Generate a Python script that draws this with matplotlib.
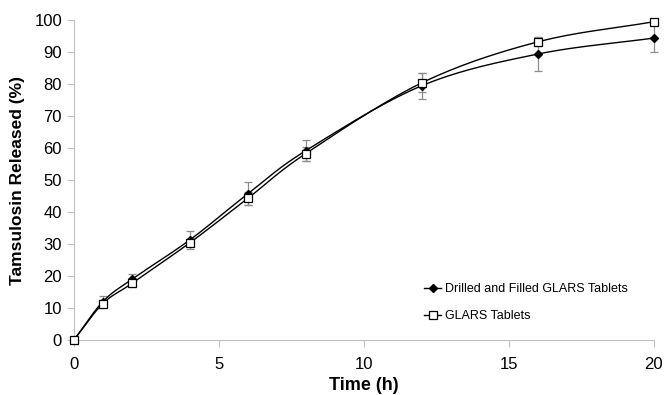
import numpy as np
import matplotlib.pyplot as plt

plt.rcParams['font.family'] = ['Liberation Sans', 'DejaVu Sans']

time_h = [0, 1, 2, 4, 6, 8, 12, 16, 20]
drilled = [0, 12.0, 19.0, 31.3, 45.7, 59.2, 79.5, 89.4, 94.4]
drilled_err = [0, 1.9, 1.8, 2.8, 3.6, 3.3, 4.1, 5.3, 4.2]
glars = [0, 11.4, 17.7, 30.4, 44.3, 58.3, 80.4, 93.2, 99.5]
glars_err = [0, 1.2, 1.2, 1.0, 2.1, 2.2, 3.0, 1.4, 0.5]


def smooth(x, y, n=30):
    # Catmull-Rom style smoothing like Excel's smoothed lines
    x = np.asarray(x, float)
    y = np.asarray(y, float)
    px = np.concatenate([[2 * x[0] - x[1]], x, [2 * x[-1] - x[-2]]])
    py = np.concatenate([[2 * y[0] - y[1]], y, [2 * y[-1] - y[-2]]])
    xs, ys = [], []
    t = np.linspace(0, 1, n)
    for i in range(1, len(px) - 2):
        p0, p1, p2, p3 = px[i - 1], px[i], px[i + 1], px[i + 2]
        q0, q1, q2, q3 = py[i - 1], py[i], py[i + 1], py[i + 2]
        b1x, b1y = p1 + (p2 - p0) / 6, q1 + (q2 - q0) / 6
        b2x, b2y = p2 - (p3 - p1) / 6, q2 - (q3 - q1) / 6
        bx = (1 - t) ** 3 * p1 + 3 * (1 - t) ** 2 * t * b1x + 3 * (1 - t) * t ** 2 * b2x + t ** 3 * p2
        by = (1 - t) ** 3 * q1 + 3 * (1 - t) ** 2 * t * b1y + 3 * (1 - t) * t ** 2 * b2y + t ** 3 * q2
        xs.extend(bx)
        ys.extend(by)
    return xs, ys


fig = plt.figure(figsize=(6.65, 3.95), dpi=100)
ax = fig.add_axes([0.111, 0.139, 0.872, 0.81])

grey = '#8c8c8c'
ax.errorbar(time_h, drilled, yerr=drilled_err, fmt='none', ecolor=grey, elinewidth=0.9,
            capsize=3, capthick=0.9, clip_on=False)
ax.errorbar(time_h, glars, yerr=glars_err, fmt='none', ecolor=grey, elinewidth=0.9,
            capsize=3, capthick=0.9, clip_on=False)

sx, sy = smooth(time_h, drilled)
ax.plot(sx, sy, color='black', lw=1.0, clip_on=False)
sx, sy = smooth(time_h, glars)
ax.plot(sx, sy, color='black', lw=1.0, clip_on=False)
ax.plot(time_h, drilled, 'D', color='black', ms=4, ls='none', clip_on=False, zorder=5)
ax.plot(time_h, glars, 's', mfc='white', mec='black', mew=0.9, ms=5.5, ls='none', clip_on=False, zorder=5)

ax.plot([], [], '-D', color='black', ms=4, lw=1.0, label='Drilled and Filled GLARS Tablets')
ax.plot([], [], '-s', color='black', mfc='white', mew=0.9, ms=5.5, lw=1.0, label='GLARS Tablets')

ax.set_xlim(0, 20)
ax.set_ylim(0, 100)
ax.set_xticks([0, 5, 10, 15, 20])
ax.set_yticks(range(0, 101, 10))
for s in ['top', 'right']:
    ax.spines[s].set_visible(False)
for s in ['left', 'bottom']:
    ax.spines[s].set_color('#c0c0c0')
ax.tick_params(colors='#c0c0c0', labelcolor='black', labelsize=12, length=5)
ax.tick_params(axis='x', pad=7)

ax.set_xlabel('Time (h)', fontsize=13, fontweight='bold', labelpad=4)
ax.set_ylabel('Tamsulosin Released (%)', fontsize=12.5, fontweight='bold', labelpad=7)

ax.legend(loc='lower right', bbox_to_anchor=(0.975, 0.02), frameon=False, fontsize=9,
          handlelength=1.4, handletextpad=0.3, labelspacing=1.2)

fig.savefig('out.png', dpi=100)
